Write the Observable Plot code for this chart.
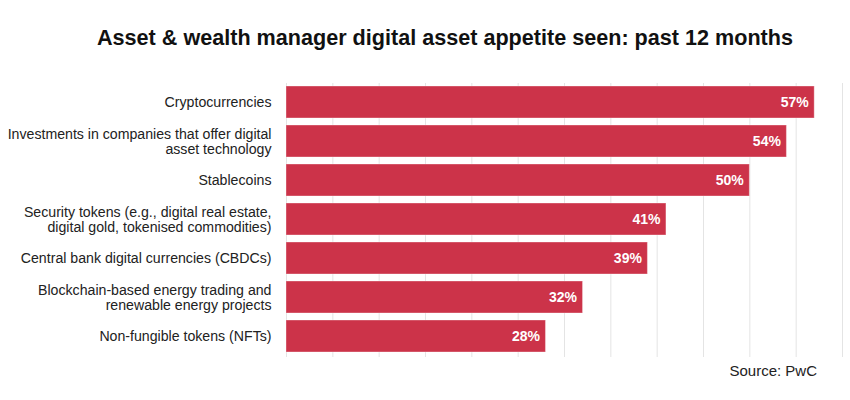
<!DOCTYPE html>
<html>
<head>
<meta charset="utf-8">
<script src="https://cdn.jsdelivr.net/npm/d3@7"></script>
<script src="https://cdn.jsdelivr.net/npm/@observablehq/plot@0.6"></script>
<style>
  html, body { margin: 0; padding: 0; background: #fff; }
  body { width: 850px; height: 400px; position: relative; overflow: hidden; font-family: "Liberation Sans", Arial, Helvetica, sans-serif; }
  #title { position: absolute; left: 0; top: 27px; width: 890px; text-align: center; font-size: 21.6px; line-height: 1; font-weight: bold; color: #111; white-space: nowrap; }
  #chart { position: absolute; left: 0; top: 60px; }
  #source { position: absolute; right: 33px; top: 363px; font-size: 15px; line-height: 1; color: #222; white-space: nowrap; }
</style>
</head>
<body>
<div id="title">Asset &amp; wealth manager digital asset appetite seen: past 12 months</div>
<div id="chart"></div>
<div id="source">Source: PwC</div>
<script>
const categories = [
  "Cryptocurrencies",
  "Investments in companies that offer digital\nasset technology",
  "Stablecoins",
  "Security tokens (e.g., digital real estate,\ndigital gold, tokenised commodities)",
  "Central bank digital currencies (CBDCs)",
  "Blockchain-based energy trading and\nrenewable energy projects",
  "Non-fungible tokens (NFTs)"
];
const values = [57, 54, 50, 41, 39, 32, 28];
const gridTicks = [0, 5, 10, 15, 20, 25, 30, 35, 40, 45, 50, 55, 60];

const data = categories.map((c, i) => ({category: c, value: values[i]}));

const chart = Plot.plot({
  width: 850,
  height: 310,
  marginLeft: 286,
  marginRight: 8,
  marginTop: 23,
  marginBottom: 13,
  style: {fontFamily: '"Liberation Sans", Arial, Helvetica, sans-serif', background: "transparent"},
  x: {domain: [0, 60], axis: null},
  y: {domain: categories, range: [21.3, 296.7], paddingInner: 0.186, paddingOuter: 0.093, axis: null},
  marks: [
    Plot.gridX(gridTicks, {stroke: "#e4e4e4", strokeOpacity: 1, strokeWidth: 1}),
    Plot.barX(data, {x: "value", y: "category", fill: "#cc3349", stroke: "#fff", strokeOpacity: 0.35, strokeWidth: 1}),
    Plot.text(data, {x: () => 0, y: "category", text: "category", textAnchor: "end", dx: -15, fontSize: 14.15, lineHeight: 1.06, fill: "#222"}),
    Plot.text(data, {x: "value", y: "category", text: d => d.value + "%", textAnchor: "end", dx: -6, dy: 0.5, fill: "#fff", fontWeight: "bold", fontSize: 14})
  ]
});
document.getElementById("chart").appendChild(chart);
</script>
</body>
</html>
